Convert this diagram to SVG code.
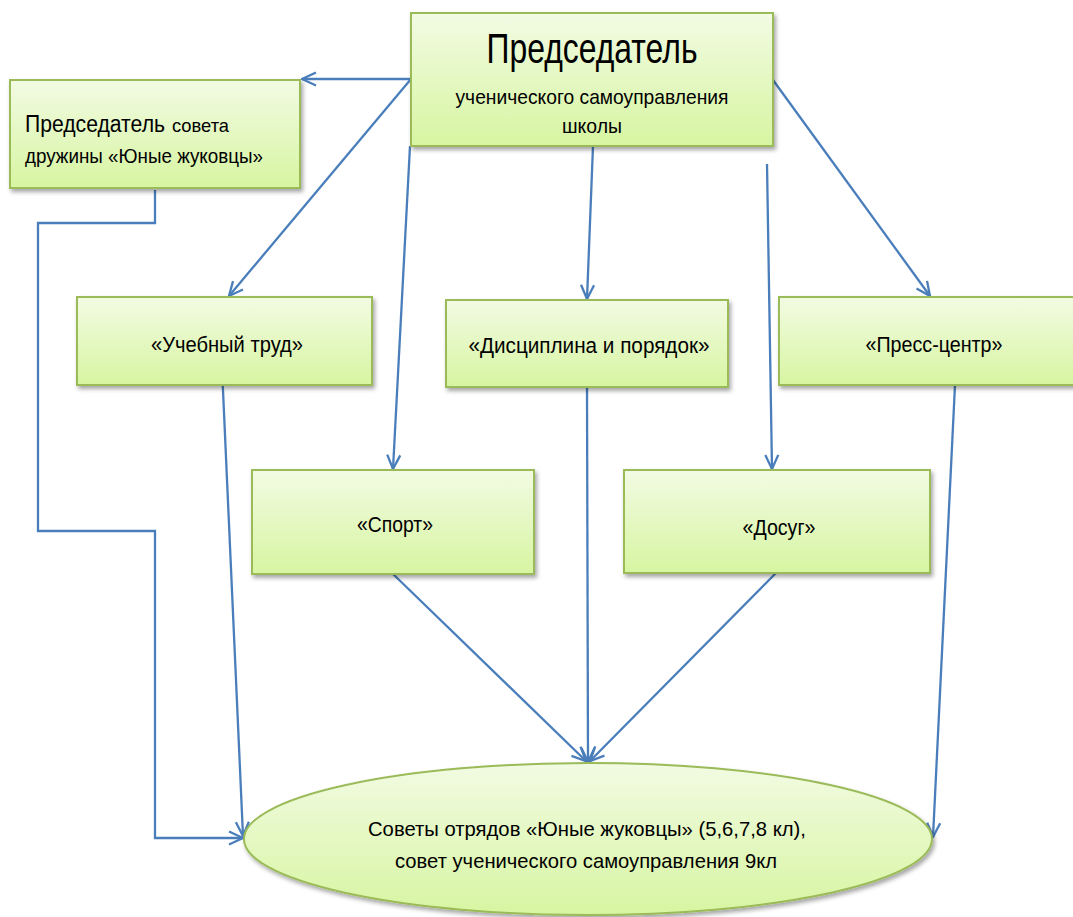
<svg xmlns="http://www.w3.org/2000/svg" width="1073" height="917" viewBox="0 0 1073 917">
<style>
.box{fill:url(#g);stroke:#9bbb59;stroke-width:2;filter:url(#sh)}
.t{font-family:"Liberation Sans",Arial,sans-serif;fill:#000}
.c{fill:none;stroke:#4a7ebb;stroke-width:2.3;marker-end:url(#a)}
</style>
<defs>
<linearGradient id="g" x1="0" y1="0" x2="0" y2="1">
<stop offset="0" stop-color="#f2fbe3"/>
<stop offset="1" stop-color="#d7f5a1"/>
</linearGradient>
<filter id="sh" x="-10%" y="-10%" width="120%" height="130%">
<feDropShadow dx="2" dy="3" stdDeviation="2" flood-color="#000" flood-opacity="0.35"/>
</filter>
<marker id="a" viewBox="0 0 16 16" refX="15" refY="8" markerWidth="16" markerHeight="16" markerUnits="userSpaceOnUse" orient="auto">
<path d="M1,1.5 L15,8 L1,14.5" fill="none" stroke="#4a7ebb" stroke-width="2.3"/>
</marker>
</defs>
<g id="connectors">
<line class="c" x1="411" y1="79" x2="302" y2="79"/>
<line class="c" x1="411" y1="79" x2="229" y2="296"/>
<line class="c" x1="410" y1="146" x2="393" y2="469"/>
<line class="c" x1="593" y1="146" x2="587" y2="299"/>
<line class="c" x1="767" y1="164" x2="772" y2="469"/>
<line class="c" x1="773" y1="80" x2="930" y2="296"/>
<polyline class="c" points="155,190 155,223 38,223 38,531 155,531 155,838 243,838"/>
<line class="c" x1="222" y1="368" x2="243" y2="836"/>
<line class="c" x1="587" y1="387" x2="588" y2="762"/>
<line class="c" x1="393" y1="574" x2="586" y2="761"/>
<line class="c" x1="776" y1="573" x2="590" y2="761"/>
<line class="c" x1="955" y1="385" x2="933" y2="837"/>
</g>
<g id="n-top">
<rect class="box" x="411" y="13" width="362" height="133"/>
<text class="t" x="592" y="63" font-size="42" text-anchor="middle" textLength="211" lengthAdjust="spacingAndGlyphs">Председатель</text>
<text class="t" x="592" y="104" font-size="21" text-anchor="middle" textLength="273" lengthAdjust="spacingAndGlyphs">ученического самоуправления</text>
<text class="t" x="592" y="133" font-size="21" text-anchor="middle" textLength="60" lengthAdjust="spacingAndGlyphs">школы</text>
</g>
<g id="n-council">
<rect class="box" x="10" y="80" width="290" height="108"/>
<text class="t" x="25" y="132" font-size="23" textLength="140" lengthAdjust="spacingAndGlyphs">Председатель</text>
<text class="t" x="172" y="132" font-size="19" textLength="57" lengthAdjust="spacingAndGlyphs">совета</text>
<text class="t" x="25" y="163" font-size="20" textLength="238" lengthAdjust="spacingAndGlyphs">дружины «Юные жуковцы»</text>
</g>
<g id="n-study">
<rect class="box" x="77" y="297" width="295" height="88"/>
<text class="t" x="227" y="352" font-size="22" text-anchor="middle" textLength="152" lengthAdjust="spacingAndGlyphs">«Учебный труд»</text>
</g>
<g id="n-discipline">
<rect class="box" x="446" y="300" width="282" height="87"/>
<text class="t" x="589" y="353" font-size="22" text-anchor="middle" textLength="241" lengthAdjust="spacingAndGlyphs">«Дисциплина  и порядок»</text>
</g>
<g id="n-press">
<rect class="box" x="779" y="297" width="300" height="88"/>
<text class="t" x="934" y="352" font-size="22" text-anchor="middle" textLength="137" lengthAdjust="spacingAndGlyphs">«Пресс-центр»</text>
</g>
<g id="n-sport">
<rect class="box" x="252" y="470" width="282" height="104"/>
<text class="t" x="395" y="532" font-size="22" text-anchor="middle" textLength="76" lengthAdjust="spacingAndGlyphs">«Спорт»</text>
</g>
<g id="n-leisure">
<rect class="box" x="624" y="470" width="306" height="103"/>
<text class="t" x="779" y="535" font-size="22" text-anchor="middle" textLength="73" lengthAdjust="spacingAndGlyphs">«Досуг»</text>
</g>
<g id="n-councils">
<ellipse class="box" cx="588" cy="839" rx="344" ry="76"/>
<text class="t" x="587" y="836" font-size="21" text-anchor="middle" textLength="438" lengthAdjust="spacingAndGlyphs">Советы отрядов «Юные жуковцы» (5,6,7,8 кл),</text>
<text class="t" x="586" y="868" font-size="21" text-anchor="middle" textLength="382" lengthAdjust="spacingAndGlyphs">совет ученического самоуправления  9кл</text>
</g>
</svg>
